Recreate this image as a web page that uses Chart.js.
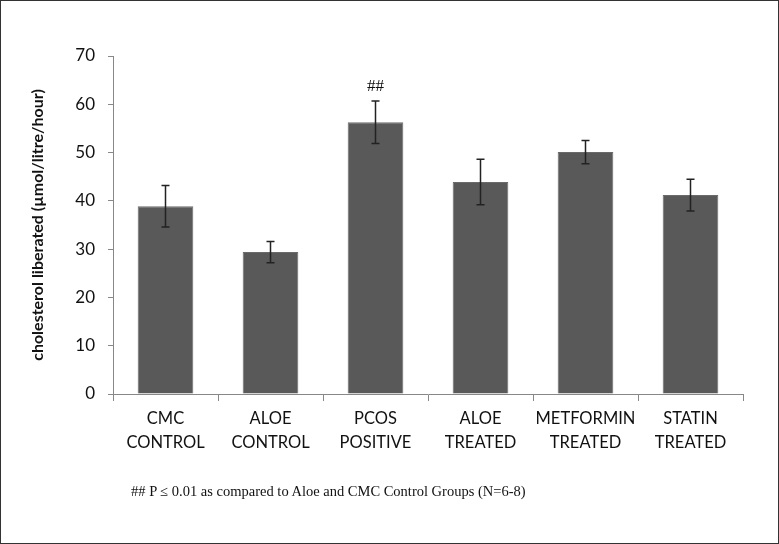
<!DOCTYPE html>
<html>
<head>
<meta charset="utf-8">
<script src="https://cdn.jsdelivr.net/npm/chart.js@4"></script>
<style>
  body { margin: 0; background: #fff; }
  #wrap { position: relative; width: 779px; height: 544px; }
  #frame { position: absolute; left: 0; top: 0; width: 777px; height: 542px; border: 1px solid #333; pointer-events: none; }
  #note { position: absolute; left: 131px; top: 483px; font-family: 'Liberation Serif', serif; font-size: 14.5px; color: #111; }
</style>
</head>
<body>
<div id="wrap">
  <canvas id="c" width="779" height="544"></canvas>
  <div id="frame"></div>
  <div id="note">## P ≤ 0.01 as compared to Aloe and CMC Control Groups (N=6-8)</div>
</div>
<script>
// 데이터
const categories = [['CMC', 'CONTROL'], ['ALOE', 'CONTROL'], ['PCOS', 'POSITIVE'], ['ALOE', 'TREATED'], ['METFORMIN', 'TREATED'], ['STATIN', 'TREATED']];
const means = [38.9, 29.4, 56.3, 43.9, 50.1, 41.2];
const errors = [4.3, 2.2, 4.4, 4.7, 2.4, 3.3];
const marks = ['', '', '##', '', '', ''];

// 오차 막대 + 유의성 표시
const errorBarPlugin = {
  id: 'errorBars',
  afterDatasetsDraw(chart) {
    const ctx = chart.ctx;
    const x = chart.scales.x, y = chart.scales.y;
    ctx.save();
    ctx.strokeStyle = '#222';
    ctx.lineWidth = 1.5;
    means.forEach((m, i) => {
      const px = x.getPixelForValue(i);
      const top = y.getPixelForValue(m + errors[i]);
      const bot = y.getPixelForValue(m - errors[i]);
      ctx.beginPath();
      ctx.moveTo(px, top); ctx.lineTo(px, bot);
      ctx.moveTo(px - 4, top); ctx.lineTo(px + 4, top);
      ctx.moveTo(px - 4, bot); ctx.lineTo(px + 4, bot);
      ctx.stroke();
      if (marks[i]) {
        ctx.fillStyle = '#111';
        ctx.font = '17px "Liberation Serif", serif';
        ctx.textAlign = 'center';
        ctx.textBaseline = 'bottom';
        ctx.fillText(marks[i], px, top - 6);
      }
    });
    ctx.restore();
  }
};

new Chart(document.getElementById('c'), {
  type: 'bar',
  data: {
    labels: categories,
    datasets: [{
      data: means,
      backgroundColor: '#595959',
      borderColor: '#6a6a6a',
      borderWidth: 1,
      categoryPercentage: 1,
      barPercentage: 0.53
    }]
  },
  options: {
    responsive: false,
    animation: false,
    layout: { padding: { left: 0, right: 36, top: 56, bottom: 0 } },
    plugins: { legend: { display: false }, tooltip: { enabled: false } },
    scales: {
      x: {
        offset: true,
        afterFit: (s) => { s.height = 150; },
        grid: { offset: true, drawOnChartArea: false, tickLength: 7, color: '#888' },
        border: { color: '#888', width: 1 },
        ticks: {
          color: '#111',
          padding: 6,
          autoSkip: false,
          maxRotation: 0,
          font: { family: 'Lato', size: 16.5, lineHeight: 1.45 }
        }
      },
      y: {
        min: 0,
        max: 70,
        afterFit: (s) => { s.width = 113; },
        grid: { drawOnChartArea: false, tickLength: 5, color: '#888' },
        border: { color: '#888', width: 1 },
        ticks: {
          stepSize: 10,
          color: '#111',
          padding: 13,
          font: { family: 'Lato', size: 17 }
        },
        title: {
          display: true,
          text: 'cholesterol liberated (µmol/litre/hour)',
          color: '#111',
          padding: { top: 28, bottom: 0 },
          font: { family: 'Lato', size: 16, weight: 'bold' }
        }
      }
    }
  },
  plugins: [errorBarPlugin]
});
</script>
</body>
</html>
